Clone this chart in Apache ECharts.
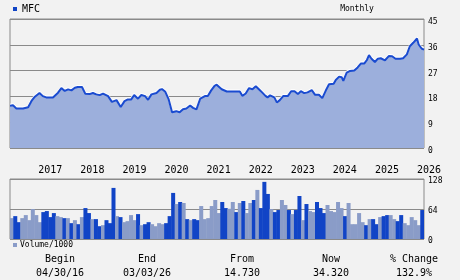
<!DOCTYPE html>
<html><head><meta charset="utf-8">
<script src="https://cdn.jsdelivr.net/npm/echarts@6/dist/echarts.min.js"></script>
<style>html,body{margin:0;padding:0;background:#f2f2f2}#c{width:460px;height:280px}</style>
</head><body><div id="c"></div>
<script>
// time in decimal years
var startYear = 2016.329, endYear = 2026.167;
var yearTicks = [2017,2018,2019,2020,2021,2022,2023,2024,2025,2026];
var priceTimes = [2016.33,2016.40,2016.48,2016.64,2016.76,2016.84,2016.92,2017.03,2017.11,2017.19,2017.35,2017.39,2017.47,2017.55,2017.63,2017.71,2017.79,2017.87,2017.94,2018.04,2018.12,2018.22,2018.30,2018.38,2018.46,2018.54,2018.66,2018.75,2018.86,2018.96,2019.05,2019.13,2019.21,2019.28,2019.37,2019.45,2019.54,2019.61,2019.69,2019.81,2019.89,2019.94,2020.02,2020.10,2020.18,2020.28,2020.36,2020.44,2020.52,2020.61,2020.68,2020.76,2020.85,2020.96,2021.03,2021.11,2021.19,2021.24,2021.28,2021.36,2021.48,2021.79,2021.85,2021.93,2022.01,2022.09,2022.17,2022.25,2022.32,2022.40,2022.45,2022.51,2022.61,2022.67,2022.74,2022.82,2022.93,2023.01,2023.09,2023.17,2023.24,2023.32,2023.40,2023.50,2023.58,2023.67,2023.75,2023.83,2023.91,2024.02,2024.07,2024.15,2024.21,2024.25,2024.33,2024.41,2024.51,2024.59,2024.67,2024.75,2024.81,2024.86,2024.92,2025.00,2025.07,2025.14,2025.24,2025.33,2025.41,2025.49,2025.60,2025.67,2025.76,2025.83,2025.91,2026.00,2026.04,2026.11,2026.167];
var priceValues = [14.73,14.9,13.8,13.8,14.2,16.4,17.9,19.2,18.1,17.65,17.65,18.0,19.3,20.9,19.9,20.45,20.1,21.0,21.3,21.3,18.9,18.8,19.2,18.7,18.45,19.0,18.1,16.1,16.7,14.3,16.35,16.95,16.95,18.5,17.2,18.5,18.1,16.8,18.7,19.2,20.3,20.55,19.6,16.95,12.5,12.85,12.5,13.55,13.8,14.85,14.0,13.45,17.2,18.1,18.1,20.1,21.7,22.1,21.9,20.5,19.7,19.7,18.2,19.0,20.9,20.5,21.55,20.4,19.4,18.2,17.65,18.35,17.65,15.9,16.7,18.1,18.1,19.8,19.8,18.8,19.8,19.15,19.4,20.2,18.55,18.55,17.4,19.95,22.25,22.4,23.75,24.9,24.7,23.4,26.3,26.9,27.0,28.1,29.5,29.5,30.7,32.4,31.15,30.0,31.15,31.3,30.6,32.05,32.0,31.15,31.1,31.3,32.65,35.5,36.7,38.2,36.1,34.7,34.32];
var volValues = [44.5,48.8,35.9,44.5,51,40.2,63.9,51,35.9,57.4,59.6,46.7,55.3,48.8,46.7,44.5,44.5,33.8,40.2,31.6,46.7,66,55.3,42.4,42.4,27.3,29.5,40.2,33.8,109,48.8,46.7,35.9,38.1,51,40.2,53.1,29.5,31.6,35.9,
31.6,27.3,33.8,31.6,33.8,48.8,98.3,74.6,78.9,76.8,42.4,40.2,42.4,40.2,70.3,42.4,44.5,70.3,83.2,55.3,78.9,66,64.5,78.9,57.4,76.8,81.1,55.3,76.8,83.2,104.7,66,121.9,96.1,63.9,57.4,61.8,83.2,72.5,61.8,
53.1,61.8,91.8,40.2,74.6,59.6,57.4,78.9,66,55.3,72.5,59.6,57.4,78.9,66,48.8,76.8,31.6,31.6,55.3,35.9,29.5,42.4,42.4,31.6,46.7,48.8,51,51,42.4,38.1,51,33.8,29.5,46.7,40.2,29.5,61.8];
// 1 = dark bar, 0 = light bar
var volDown = [0,1,1,0,0,0,0,0,0,1,1,1,1,0,0,1,0,1,0,1,0,1,1,0,1,1,0,1,1,1,0,1,0,0,0,0,1,0,1,1,
0,0,0,0,1,1,1,0,1,0,1,0,1,1,0,0,0,0,0,0,1,1,0,0,1,0,1,0,0,1,0,1,1,1,0,1,1,0,0,1,
0,1,1,0,1,0,0,1,1,1,0,0,0,0,0,1,0,0,0,0,0,1,0,1,1,0,1,1,0,0,1,1,0,0,0,0,0,1];
var summaryHeads = ['Begin','End','From','Now','% Change'];
var summaryVals = ['04/30/16','03/03/26','14.730','34.320','132.9%'];

var DARK = '#1144c6', LIGHT = '#8a9cc8', GRID = '#8a8a8a', FONT = 'DejaVu Sans Mono';
var volCats = volValues.map(function(v,i){ return 'm' + i; });
var priceData = priceTimes.map(function(t,i){ return [t, priceValues[i]]; });
var volData = volValues.map(function(v,i){ return {value:v, itemStyle:{color: volDown[i] ? DARK : LIGHT}}; });

var colX = [60,147,242,331,414];
var graphics = [
  {type:'rect', shape:{x:13,y:7,width:4,height:4}, style:{fill:DARK}},
  {type:'text', x:22, y:9, style:{text:'MFC', font:'10px '+FONT, fill:'#000', textVerticalAlign:'middle'}},
  {type:'text', x:357, y:9, style:{text:'Monthly', font:'8px '+FONT, fill:'#000', textAlign:'center', textVerticalAlign:'middle'}},
  {type:'rect', shape:{x:13,y:243,width:4,height:4}, style:{fill:LIGHT}},
  {type:'text', x:20, y:245, style:{text:'Volume/1000', font:'8px '+FONT, fill:'#000', textVerticalAlign:'middle'}}
];
summaryHeads.forEach(function(h,i){
  graphics.push({type:'text', x:colX[i], y:259, style:{text:h, font:'10px '+FONT, fill:'#000', textAlign:'center', textVerticalAlign:'middle'}});
  graphics.push({type:'text', x:colX[i], y:273, style:{text:summaryVals[i], font:'10px '+FONT, fill:'#000', textAlign:'center', textVerticalAlign:'middle'}});
});

var chart = echarts.init(document.getElementById('c'), null, {renderer:'canvas'});
chart.setOption({
  backgroundColor:'#f2f2f2',
  animation:false,
  grid:[
    {left:10, right:36, top:19, height:129, show:true, borderColor:GRID, borderWidth:1, backgroundColor:'transparent'},
    {left:10, right:36, top:179, height:60, show:true, borderColor:GRID, borderWidth:1, backgroundColor:'transparent'}
  ],
  xAxis:[
    {type:'value', gridIndex:0, min:startYear, max:endYear,
     axisLine:{show:false}, axisTick:{show:false}, splitLine:{show:false},
     axisLabel:{customValues:yearTicks, align:'left', margin:17, fontFamily:FONT, fontSize:10, color:'#000',
       formatter:function(v){ return String(Math.round(v)); }}},
    {type:'category', gridIndex:1, data:volCats, boundaryGap:true,
     axisLine:{show:false}, axisTick:{show:false}, axisLabel:{show:false}, splitLine:{show:false}}
  ],
  yAxis:[
    {type:'value', gridIndex:0, position:'right', min:0, max:45, interval:9,
     axisLine:{show:false}, axisTick:{show:false},
     splitLine:{show:true, lineStyle:{color:GRID, width:1}},
     axisLabel:{margin:4, fontFamily:FONT, fontSize:8, color:'#000', verticalAlign:'top', lineHeight:6}},
    {type:'value', gridIndex:1, position:'right', min:0, max:128, interval:64,
     axisLine:{show:false}, axisTick:{show:false},
     splitLine:{show:true, lineStyle:{color:GRID, width:1}},
     axisLabel:{margin:4, fontFamily:FONT, fontSize:8, color:'#000', verticalAlign:'top', lineHeight:4}}
  ],
  series:[
    {type:'line', xAxisIndex:0, yAxisIndex:0, data:priceData, symbol:'none', smooth:false, z:3,
     lineStyle:{color:'#1a4bd0', width:2, shadowColor:'#ffffff', shadowBlur:0, shadowOffsetY:-1},
     areaStyle:{color:'#9cafdc', opacity:1}},
    {type:'bar', xAxisIndex:1, yAxisIndex:1, data:volData, barWidth:4, z:3}
  ],
  graphic:graphics
});
</script>
</body></html>
